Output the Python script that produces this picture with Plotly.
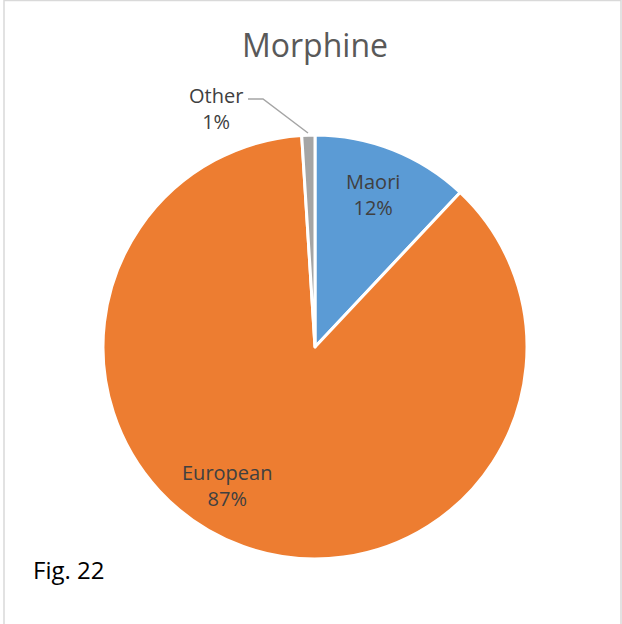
import plotly.graph_objects as go

labels = ["Maori", "European", "Other"]
values = [12, 87, 1]
colors = ["#5B9BD5", "#ED7D31", "#A5A5A5"]
title_text = "Morphine"
fig_label = "Fig. 22"

W, H = 622, 624
cx, cy, r = 315, 347, 212

fig = go.Figure(go.Pie(
    labels=labels, values=values, sort=False, direction="clockwise", rotation=0,
    marker=dict(colors=colors, line=dict(color="white", width=3)),
    textinfo="none",
    hoverinfo="label+percent",
    domain=dict(x=[(cx - r) / W, (cx + r) / W], y=[(H - cy - r) / H, (H - cy + r) / H]),
    showlegend=False,
))

total = sum(values)
pcts = [f"{round(v / total * 100)}%" for v in values]
# label centre positions (pixels)
label_pos = [(373, 194), (227, 485), (216, 108)]
lab_font = dict(family="Open Sans", size=20, color="#404040")
for lab, pct, (x, y) in zip(labels, pcts, label_pos):
    fig.add_annotation(x=x / W, y=1 - y / H, xref="paper", yref="paper", text=f"{lab}<br>{pct}",
                       showarrow=False, font=lab_font, xanchor="center", yanchor="middle",
                       align="center")

fig.add_shape(type="path", xref="paper", yref="paper",
              path=f"M {248/W},{1-99/H} L {263/W},{1-99/H} L {308/W},{1-133/H}",
              line=dict(color="#A5A5A5", width=1.5))

fig.add_annotation(x=315 / W, y=1 - 45 / H, xref="paper", yref="paper", text=title_text,
                   showarrow=False, xanchor="center", yanchor="middle",
                   font=dict(family="Open Sans", size=32, color="#595959"))
fig.add_annotation(x=31 / W, y=1 - 569 / H, xref="paper", yref="paper", text=fig_label,
                   showarrow=False, xanchor="left", yanchor="middle",
                   font=dict(family="Open Sans", size=24, color="#000000"))

fig.add_shape(type="rect", xref="paper", yref="paper", x0=4 / W, x1=621 / W, y0=-0.01, y1=1 - 0.5 / H,
              line=dict(color="#D9D9D9", width=1.5))

fig.update_layout(width=W, height=H, margin=dict(l=0, r=0, t=0, b=0),
                  paper_bgcolor="white", plot_bgcolor="white")
fig.write_html("out.html", config={"displayModeBar": False},
               post_script="document.body.style.margin='0';document.body.style.overflow='hidden';")
